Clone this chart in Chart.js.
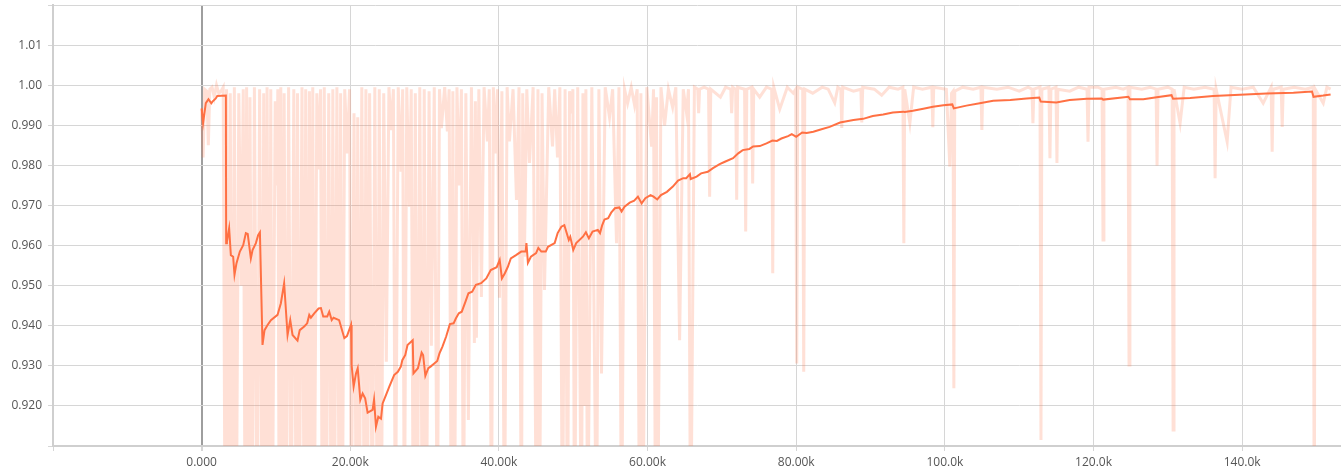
<!DOCTYPE html>
<html>
<head>
<meta charset="utf-8">
<script src="https://cdn.jsdelivr.net/npm/chart.js@4"></script>
<style>
  html, body { margin: 0; padding: 0; background: #fff; }
  #wrap { width: 1341px; height: 472px; }
</style>
</head>
<body>
<div id="wrap"><canvas id="chart"></canvas></div>
<script>
// steps are in thousands
const smoothSteps = [
    0, 0.2, 0.56, 0.92, 1.3, 1.46, 1.9, 2.1, 3.26, 3.3,
    3.4, 3.7, 3.93, 4.24, 4.42, 4.69, 5.14, 5.59, 5.95, 6.2,
    6.62, 6.85, 7.3, 7.6, 7.84, 8.19, 8.46, 8.87, 9.32, 10.21,
    10.66, 11.1, 11.56, 11.92, 12.23, 12.9, 13.2, 13.8, 14.2, 14.48,
    14.7, 15.15, 15.73, 16.05, 16.36, 16.9, 17.17, 17.5, 17.75, 18.5,
    19.2, 19.55, 20.1, 20.18, 20.45, 20.77, 21.0, 21.35, 21.66, 22.0,
    22.33, 23.0, 23.2, 23.45, 23.77, 24.13, 24.35, 24.8, 25.25, 25.9,
    26.4, 26.8, 27.0, 27.4, 27.7, 28.4, 28.5, 29.1, 29.6, 29.8,
    30.1, 30.5, 30.8, 31.3, 31.7, 32.0, 32.4, 32.9, 33.4, 33.9,
    34.2, 34.6, 35.0, 35.5, 35.9, 36.4, 36.9, 37.6, 38.3, 38.9,
    39.7, 40.1, 40.4, 40.8, 41.2, 41.6, 42.3, 43.0, 43.6, 43.7,
    43.9, 44.3, 45.0, 45.3, 45.7, 46.3, 46.6, 47.5, 47.9, 48.4,
    48.8, 49.4, 49.6, 50.0, 50.4, 51.3, 51.7, 52.1, 52.6, 53.3,
    53.6, 53.9, 54.2, 54.7, 55.1, 55.6, 56.2, 56.5, 56.9, 57.6,
    58.2, 58.7, 59.2, 59.7, 60.4, 60.8, 61.3, 61.8, 62.6, 63.4,
    64.1, 64.8, 65.2, 65.7, 65.8, 66.6, 67.2, 68.1, 68.8, 69.7,
    70.4, 71.5, 72.2, 72.8, 73.7, 74.2, 75.1, 76.0, 76.8, 77.4,
    78.0, 78.9, 79.4, 80.0, 80.8, 81.4, 82.3, 83.4, 84.5, 85.9,
    87.7, 89.0, 90.3, 91.7, 93.0, 94.4, 94.6, 95.7, 97.1, 98.4,
    99.8, 101.0, 101.2, 102.9, 104.7, 106.5, 108.8, 111.0, 112.7, 112.9,
    115.0, 116.8, 119.1, 121.1, 121.3, 124.7, 124.9, 126.7, 128.5, 130.5,
    130.7, 133.0, 136.1, 139.7, 143.3, 146.9, 149.4, 149.6, 150.9, 151.9
];
const smoothValues = [
    0.9942, 0.9906, 0.9955, 0.9965, 0.9955, 0.9959, 0.9967, 0.9973, 0.9974, 0.9606,
    0.961, 0.9643, 0.9576, 0.9572, 0.9527, 0.9556, 0.9585, 0.9601, 0.9631, 0.9629,
    0.9568, 0.9589, 0.9606, 0.9626, 0.9633, 0.9352, 0.9389, 0.9402, 0.9414, 0.9427,
    0.9456, 0.9506, 0.9377, 0.9414, 0.9377, 0.9363, 0.9389, 0.9398, 0.9406, 0.9427,
    0.942, 0.9431, 0.9443, 0.9444, 0.9423, 0.9423, 0.9435, 0.9414, 0.942, 0.9414,
    0.9369, 0.9374, 0.9402, 0.9302, 0.9248, 0.9281, 0.9294, 0.9215, 0.9231, 0.9219,
    0.9183, 0.919, 0.9216, 0.9148, 0.9173, 0.9168, 0.9206, 0.9227, 0.9248, 0.9277,
    0.9285, 0.9298, 0.9314, 0.9327, 0.9352, 0.9364, 0.9281, 0.9294, 0.9333, 0.9327,
    0.9275, 0.9294, 0.9298, 0.9306, 0.9312, 0.9331, 0.9348, 0.9373, 0.9404, 0.9406,
    0.9418, 0.9431, 0.9435, 0.946, 0.9481, 0.9485, 0.9502, 0.9506, 0.9518, 0.9539,
    0.9546, 0.9564, 0.9518, 0.9531, 0.9547, 0.9568, 0.9576, 0.9585, 0.9585, 0.9606,
    0.9557, 0.9572, 0.9581, 0.9594, 0.9585, 0.9585, 0.9597, 0.9606, 0.9631, 0.9647,
    0.9651, 0.9614, 0.9622, 0.9589, 0.9606, 0.9622, 0.9633, 0.9618, 0.9635, 0.9639,
    0.9631, 0.9651, 0.9665, 0.9668, 0.9682, 0.9693, 0.9695, 0.9685, 0.9697, 0.9707,
    0.9712, 0.9722, 0.9705, 0.9718, 0.9726, 0.9722, 0.9715, 0.9726, 0.9734, 0.9747,
    0.9762, 0.9768, 0.9768, 0.9778, 0.9766, 0.9772, 0.978, 0.9784, 0.9793, 0.9803,
    0.9809, 0.9818, 0.983, 0.9838, 0.9841, 0.9847, 0.9848, 0.9855, 0.9862, 0.9861,
    0.9867, 0.9873, 0.9878, 0.9871, 0.9882, 0.9881, 0.9884, 0.989, 0.9896, 0.9907,
    0.9913, 0.9916, 0.9923, 0.9927, 0.9932, 0.9934, 0.9933, 0.9936, 0.9941, 0.9946,
    0.995, 0.9952, 0.9942, 0.9949, 0.9955, 0.9961, 0.9963, 0.9967, 0.9969, 0.9959,
    0.9957, 0.9963, 0.9966, 0.9967, 0.9964, 0.9971, 0.9965, 0.9965, 0.997, 0.9975,
    0.9966, 0.9968, 0.9973, 0.9976, 0.9979, 0.9981, 0.9984, 0.9971, 0.9974, 0.9977
];

// raw (unsmoothed) series
const rawSteps = [
    0, 0.2, 0.4, 0.7, 0.9, 1.1, 1.4, 1.7, 2.0, 2.3,
    2.6, 2.9,
    3.16, 3.35, 3.57, 3.85, 4.11, 4.4, 4.65, 5.0,
    5.32, 5.6, 5.86, 6.05, 6.26, 6.5, 6.8, 7.1, 7.47, 7.8,
    8.15, 8.35, 8.55, 8.8, 9.09, 9.3, 9.49, 9.9, 10.1, 10.25,
    10.44, 10.65, 10.84, 11.1, 11.38, 11.7, 12.05, 12.4, 12.73, 12.9,
    13.13, 13.5, 13.8, 14.0, 14.21, 14.5, 14.75, 14.95, 15.15, 15.5,
    15.82, 16.0, 16.23, 16.5, 16.77, 17.1, 17.44, 17.65, 17.85, 18.2,
    18.52, 18.7, 18.92, 19.25, 19.6, 19.9, 20.13, 20.5, 20.81, 21.0,
    21.21, 21.55, 21.89, 22.1, 22.29, 22.6, 22.96, 23.3, 23.64, 23.9,
    24.17, 24.5, 24.85, 25.2, 25.52, 25.8, 26.06, 26.45,
    26.83, 27.05, 27.27, 27.6, 27.95, 28.2, 28.48, 28.75, 29.02, 29.35,
    29.7, 29.95, 30.24, 30.6, 30.91, 31.3, 31.72, 32.0, 32.26, 32.7,
    33.06, 33.3, 33.6, 33.8, 34.01, 34.35, 34.68, 34.95, 35.22, 35.55,
    35.89, 36.3, 36.7, 36.83, 36.97, 37.3, 37.64, 38.0, 38.45, 38.7,
    38.99, 39.25, 39.53, 39.8, 40.07, 40.4, 40.74, 41.1, 41.41, 41.9,
    42.36, 42.7, 43.03, 43.2, 43.43, 43.75, 44.11, 44.6, 45.05, 45.25,
    45.45, 45.8, 46.13, 46.7, 47.21, 47.5, 47.88, 48.2, 48.55, 48.9,
    49.23, 49.5, 49.76, 49.95, 50.17, 50.6, 51.11, 51.3, 51.52, 51.7,
    51.92, 52.5, 53.13, 53.45, 53.8, 54.3, 54.88, 55.3, 55.82, 56.15,
    56.5, 56.9, 57.31, 57.8, 58.25, 58.6, 58.92, 59.1, 59.33, 59.9,
    60.54, 60.8, 61.08, 61.2, 61.35, 61.8, 62.29, 62.8, 63.37, 63.8,
    64.31, 64.8, 65.25, 65.5, 65.79, 66.3,
    66.75, 66.87, 67.0, 67.6, 68.2, 68.35, 68.5, 69.8, 70.5, 71.2,
    71.31, 71.45, 71.85, 71.99, 72.12, 73.05, 73.2, 73.35, 74.0, 74.14,
    74.28, 75.08, 76.0, 76.7, 76.84, 76.98, 77.78, 78.8, 79.6, 79.93,
    80.07, 80.2, 80.87, 81.01, 81.15, 82.22, 83.5, 84.3, 85.18, 85.6,
    86.0, 86.13, 86.26, 87.7, 88.7, 88.82, 88.95, 90.5, 91.5, 92.5,
    93.7, 94.35, 94.48, 94.6, 95.29, 95.8, 97.0, 98.25, 98.38, 98.5,
    100.2, 100.67, 100.9, 101.1, 101.21, 101.33, 102.4, 103.8, 104.85, 104.98,
    105.1, 107.0, 108.5, 110.0, 111.2, 111.72, 111.85, 111.98, 112.8, 112.93,
    113.05, 114.0, 114.14, 114.27, 114.95, 115.08, 115.2, 116.8, 118.0, 119.13,
    119.26, 119.4, 120.6, 121.15, 121.28, 121.4, 123.0, 124.0, 124.65, 124.78,
    124.9, 126.5, 127.6, 128.42, 128.55, 128.68, 130.0, 130.58, 130.71, 130.83,
    131.65, 132.2, 133.5, 135.0, 136.23, 136.36, 136.5, 137.98, 138.5, 140.0,
    141.5, 142.83, 143.9, 144.04, 144.17, 145.25, 145.39, 145.52, 147.0, 148.5,
    149.57, 149.7, 149.83, 150.91, 151.4, 151.9
];
const rawValues = [
    0.994, 0.982, 0.999, 0.9985, 0.985, 0.999, 0.9995, 0.997, 1.0, 0.998,
    0.9985, 0.9995,
    0.88, 0.999, 0.88, 0.998, 0.88, 0.9995, 0.88, 0.998,
    0.95, 0.999, 0.88, 0.9995, 0.88, 0.997, 0.88, 0.9995, 0.88, 0.999,
    0.88, 0.998, 0.88, 0.9995, 0.88, 0.999, 0.88, 0.996, 0.975, 0.999,
    0.88, 0.9995, 0.88, 0.998, 0.88, 0.9995, 0.88, 0.999, 0.88, 0.998,
    0.88, 0.9995, 0.88, 0.999, 0.88, 0.9985, 0.88, 0.9995, 0.88, 0.998,
    0.979, 0.999, 0.88, 0.9995, 0.88, 0.998, 0.88, 0.999, 0.88, 0.9995,
    0.88, 0.998, 0.88, 0.999, 0.983, 0.999, 0.88, 0.993, 0.88, 0.992,
    0.88, 0.9995, 0.88, 0.999, 0.88, 0.998, 0.88, 0.9995, 0.88, 0.999,
    0.88, 0.998, 0.931, 0.9995, 0.9888, 0.999, 0.88, 0.9995,
    0.9784, 0.999, 0.88, 0.9995, 0.9697, 0.999, 0.88, 0.998, 0.88, 0.9995,
    0.88, 0.999, 0.88, 0.9985, 0.935, 0.9995, 0.88, 0.999, 0.9893, 0.9995,
    0.9885, 0.999, 0.88, 0.9985, 0.88, 0.9995, 0.975, 0.999, 0.88, 0.998,
    0.9165, 0.9995, 0.9357, 0.996, 0.937, 0.999, 0.9472, 0.9995, 0.986, 0.999,
    0.88, 0.9995, 0.983, 0.999, 0.947, 0.9985, 0.88, 0.9995, 0.986, 0.999,
    0.9714, 0.9995, 0.88, 0.998, 0.9572, 0.999, 0.9806, 0.9995, 0.88, 0.999,
    0.88, 0.998, 0.9489, 0.9995, 0.9847, 0.999, 0.982, 0.9995, 0.88, 0.999,
    0.88, 0.9985, 0.993, 0.999, 0.88, 0.9995, 0.88, 0.998, 0.92, 0.999,
    0.88, 0.9995, 0.88, 0.999, 0.9281, 0.9995, 0.992, 0.999, 0.9606, 0.9995,
    0.88, 0.999, 0.9955, 0.9995, 0.995, 0.999, 0.88, 0.998, 0.88, 0.9995,
    0.9847, 0.999, 0.88, 0.997, 0.88, 0.9995, 0.99, 0.999, 0.9945, 0.9995,
    0.9364, 0.999, 0.993, 0.999, 0.88, 0.9995,
    0.999, 0.993, 0.999, 0.9995, 0.999, 0.9722, 0.999, 0.997, 0.9995, 0.999,
    0.993, 0.9995, 0.999, 0.9714, 0.9995, 0.999, 0.9635, 0.999, 0.9995, 0.9755,
    0.999, 0.997, 0.9995, 0.999, 0.9531, 0.9995, 0.994, 0.9995, 0.998, 0.999,
    0.9306, 0.9995, 0.999, 0.9285, 0.999, 0.998, 0.9995, 0.999, 0.9956, 0.9995,
    0.999, 0.9893, 0.9995, 0.9985, 0.999, 0.9907, 0.9995, 0.999, 0.9975, 0.9995,
    0.999, 0.9995, 0.9606, 0.999, 0.9905, 0.9995, 0.999, 0.9995, 0.9895, 0.9995,
    0.999, 0.9797, 0.998, 0.9985, 0.9244, 0.9985, 0.9995, 0.999, 0.9995, 0.9888,
    0.9995, 0.999, 0.9995, 0.9985, 0.9995, 0.999, 0.9905, 0.999, 0.9995, 0.9115,
    0.999, 0.9995, 0.9818, 0.999, 0.9995, 0.9806, 0.999, 0.9985, 0.9995, 0.999,
    0.9859, 0.9995, 0.9995, 0.999, 0.9614, 0.999, 0.9995, 0.999, 0.9995, 0.9302,
    0.9995, 0.999, 0.9995, 0.999, 0.98, 0.999, 0.9995, 0.999, 0.914, 0.999,
    0.9905, 0.9995, 0.999, 0.9995, 0.999, 0.9768, 0.999, 0.9859, 0.9995, 0.999,
    0.9995, 0.9955, 0.9995, 0.9834, 0.999, 0.9995, 0.9896, 0.999, 0.9995, 0.999,
    0.9995, 0.88, 0.999, 0.9955, 0.9995, 0.999
];

const xTicks = [-20000, 0, 20000, 40000, 60000, 80000, 100000, 120000, 140000];
const xMin = -20000, xMax = 153300;
const yMin = 0.91, yMax = 1.02, yStep = 0.01;

const gridColor = '#d6d6d6';
const lineColor = '#ff7043';

function toPoints(steps, values) {
    return steps.map((s, i) => ({ x: s * 1000, y: values[i] }));
}

function fmtStep(v) {
    if (v === xMin) return '';
    if (Math.abs(v) >= 1000) return (v / 1000).toPrecision(4) + 'k';
    return v.toPrecision(4);
}

function fmtValue(v) {
    if (Math.abs(v - yMin) < 1e-6 || Math.abs(v - yMax) < 1e-6) return '';
    return v.toPrecision(3);
}

const tickFont = { family: "'Open Sans', 'Noto Sans', sans-serif", size: 12 };

new Chart(document.getElementById('chart').getContext('2d'), {
    type: 'line',
    data: {
        datasets: [{
            data: toPoints(smoothSteps, smoothValues),
            borderColor: lineColor,
            borderWidth: 2,
            pointRadius: 0,
            tension: 0,
            order: 0
        }, {
            data: toPoints(rawSteps, rawValues),
            borderColor: 'rgba(255, 112, 67, 0.22)',
            borderWidth: 3,
            pointRadius: 0,
            tension: 0,
            order: 1
        }]
    },
    options: {
        responsive: true,
        maintainAspectRatio: false,
        animation: false,
        layout: { padding: { top: 5, right: 0, left: 0, bottom: 0 } },
        plugins: { legend: { display: false }, tooltip: { enabled: false } },
        scales: {
            x: {
                type: 'linear',
                min: xMin,
                max: xMax,
                afterFit: s => { s.height = 26; s.paddingLeft = 0; s.paddingRight = 0; },
                afterBuildTicks: s => { s.ticks = xTicks.map(v => ({ value: v })); },
                ticks: {
                    maxRotation: 0,
                    autoSkip: false,
                    padding: 4,
                    color: '#555',
                    font: tickFont,
                    callback: fmtStep
                },
                grid: {
                    color: ctx => (ctx.tick && ctx.tick.value === 0) ? '#9e9e9e' : gridColor,
                    lineWidth: ctx => (ctx.tick && ctx.tick.value === 0) ? 2 : 1,
                    tickLength: 5,
                    tickColor: gridColor
                },
                border: { display: true, color: '#cfcfcf', width: 2 }
            },
            y: {
                min: yMin,
                max: yMax,
                afterFit: s => { s.width = 53; s.paddingTop = 0; s.paddingBottom = 0; },
                ticks: {
                    stepSize: yStep,
                    padding: 6,
                    color: '#555',
                    font: tickFont,
                    callback: fmtValue
                },
                grid: {
                    color: gridColor,
                    tickLength: 5,
                    tickColor: gridColor
                },
                border: { display: true, color: '#cfcfcf', width: 2 }
            }
        }
    }
});
</script>
</body>
</html>
